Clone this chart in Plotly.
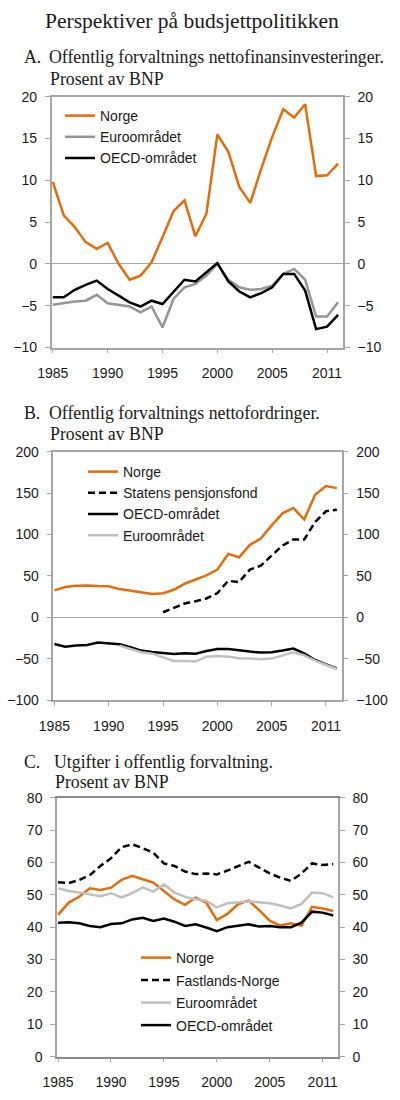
import plotly.graph_objects as go

years = list(range(1985, 2012))

# A. Offentlig forvaltnings nettofinansinvesteringer (prosent av BNP)
a_norge = [9.8, 5.8, 4.4, 2.6, 1.8, 2.5, 0.0, -1.9, -1.4, 0.2, 3.2, 6.3, 7.6, 3.3, 6.0,
           15.5, 13.4, 9.2, 7.3, 11.4, 15.2, 18.5, 17.5, 19.1, 10.5, 10.6, 12.0]
a_euro = [-4.9, -4.7, -4.5, -4.4, -3.7, -4.7, -4.9, -5.1, -5.8, -5.1, -7.6, -4.2, -2.8, -2.4, -1.4,
          0.0, -1.9, -2.8, -3.1, -3.0, -2.6, -1.2, -0.6, -1.9, -6.3, -6.3, -4.6]
a_oecd = [-4.0, -4.0, -3.1, -2.5, -2.0, -3.0, -3.8, -4.6, -5.1, -4.4, -4.8, -3.4, -1.9, -2.1, -1.0,
          0.1, -2.1, -3.3, -4.0, -3.5, -2.8, -1.2, -1.2, -3.2, -7.8, -7.5, -6.1]

# B. Offentlig forvaltnings nettofordringer (prosent av BNP)
b_norge = [32.4, 36.5, 38.0, 38.3, 37.6, 37.5, 34.0, 32.0, 29.6, 28.0, 29.1, 33.2, 40.5, 45.3, 50.6,
           57.5, 76.5, 72.5, 87.5, 95.0, 111.0, 125.5, 132.0, 118.0, 148.0, 158.5, 156.0]
b_spf = [None] * 10 + [6.0, 11.0, 16.6, 19.4, 22.7, 29.1, 44.0, 42.5, 57.5, 62.3, 74.5, 86.6,
                       93.9, 93.9, 115.0, 128.0, 130.0]
b_oecd = [-32.3, -35.5, -34.3, -33.5, -30.6, -31.5, -32.7, -36.3, -40.3, -41.9, -43.5, -44.4, -43.5,
          -44.0, -40.7, -38.3, -38.3, -40.3, -41.5, -42.7, -42.3, -40.3, -37.9, -43.5, -51.6, -56.9,
          -61.7]
b_euro = [None] * 6 + [-34.3, -37.9, -42.3, -44.0, -48.8, -52.8, -52.8, -53.6, -47.6, -46.8, -47.6,
                       -49.6, -50.0, -50.8, -50.0, -46.4, -42.3, -46.0, -52.4, -57.7, -62.5]

# C. Utgifter i offentlig forvaltning (prosent av BNP)
c_norge = [43.8, 47.6, 49.4, 52.0, 51.5, 52.2, 54.6, 55.9, 54.8, 53.8, 51.2, 48.6, 46.9, 49.1, 47.6,
           42.2, 44.1, 47.1, 48.2, 45.3, 42.0, 40.5, 41.2, 40.5, 46.3, 45.8, 45.0]
c_fastland = [53.9, 53.6, 54.6, 56.1, 58.9, 61.3, 64.7, 65.6, 64.4, 63.0, 59.7, 58.9, 57.2, 56.4,
              56.6, 56.3, 57.5, 58.9, 60.2, 58.4, 56.6, 55.3, 54.3, 56.6, 59.7, 59.2, 59.5]
c_euro = [52.0, 51.2, 50.7, 50.2, 49.6, 50.5, 49.2, 50.5, 52.3, 51.0, 53.2, 50.7, 49.4, 48.6, 48.2,
          46.1, 47.4, 47.7, 47.9, 47.7, 47.4, 46.7, 45.8, 47.2, 50.7, 50.5, 49.2]
c_oecd = [41.4, 41.5, 41.2, 40.4, 40.0, 41.0, 41.2, 42.4, 42.9, 41.9, 42.7, 41.7, 40.4, 40.9, 39.9,
          38.8, 40.0, 40.5, 40.9, 40.2, 40.4, 40.0, 40.0, 41.4, 44.8, 44.5, 43.6]

tick_years = [1985, 1990, 1995, 2000, 2005, 2010]
tick_text = ['1985', '1990', '1995', '2000', '2005', '2011']

ORANGE = '#E46C0A'
GREY_A = '#969696'
GREY_LIGHT = '#C0C0C0'
AXIS = '#A6A6A6'
TXT = '#1a1a1a'
SANS = 'Liberation Sans, Arial, sans-serif'
SERIF = 'Liberation Serif, Times New Roman, serif'
W, H = 400, 1100
SUB = 17.8  # panel heading size


def px_x(p):
    return p / W


def px_y(p):
    return 1 - p / H


fig = go.Figure()

# (x-domain px, y-domain px, y range, y dtick)
panels = [
    ((51.7, 343), (347.5, 96.7), [-10, 20], 5),
    ((53.3, 341.7), (700, 451.7), [-100, 200], 50),
    ((57, 338), (1056.7, 797.7), [0, 80], 10),
]

series = [
    [('Norge', a_norge, ORANGE, 'solid', 2.5, 'y'),
     ('Euroområdet', a_euro, GREY_A, 'solid', 2.5, 'y'),
     ('OECD-området', a_oecd, 'black', 'solid', 2.5, 'y')],
    [('Norge', b_norge, ORANGE, 'solid', 2.5, 'y3'),
     ('Statens pensjonsfond', b_spf, 'black', '7px,4px', 2.5, 'y3'),
     ('OECD-området', b_oecd, 'black', 'solid', 2.5, 'y3'),
     ('Euroområdet', b_euro, GREY_LIGHT, 'solid', 2.5, 'y3')],
    [('Norge', c_norge, ORANGE, 'solid', 2.5, 'y5'),
     ('Fastlands-Norge', c_fastland, 'black', '7px,4px', 2.5, 'y5'),
     ('Euroområdet', c_euro, GREY_LIGHT, 'solid', 2.5, 'y5'),
     ('OECD-området', c_oecd, 'black', 'solid', 2.5, 'y5')],
]

legend_names = ['legend', 'legend2', 'legend3']
for i, group in enumerate(series):
    xname = 'x' if i == 0 else 'x%d' % (i + 1)
    for name, vals, color, dash, width, yname in group:
        fig.add_trace(go.Scatter(
            x=years, y=vals, name=name, mode='lines',
            line=dict(color=color, dash=dash, width=width),
            xaxis=xname, yaxis=yname, legend=legend_names[i],
            legendgroup='%s_%d' % (name, i),
            connectgaps=False,
        ))
    # empty trace so the right-hand axis is drawn
    fig.add_trace(go.Scatter(x=[], y=[], xaxis=xname, yaxis='y%d' % (2 * i + 2),
                             showlegend=False, hoverinfo='skip'))

layout = {}
for i, (xd, yd, yr, dt) in enumerate(panels):
    xk = 'xaxis' if i == 0 else 'xaxis%d' % (i + 1)
    xa = 'x' if i == 0 else 'x%d' % (i + 1)
    yl = 'yaxis' if i == 0 else 'yaxis%d' % (2 * i + 1)
    yl_ref = 'y' if i == 0 else 'y%d' % (2 * i + 1)
    yr_k = 'yaxis%d' % (2 * i + 2)
    ydom = [px_y(yd[0]), px_y(yd[1])]
    layout[xk] = dict(
        domain=[px_x(xd[0]), px_x(xd[1])], anchor=yl_ref, range=[1984.9, 2011.45],
        tickvals=tick_years, ticktext=tick_text, ticks='outside', ticklen=4,
        tickcolor=AXIS, showline=True, linecolor='#8C8C8C' if i == 2 else AXIS,
        linewidth=1.5, mirror=True, showgrid=False, zeroline=False, automargin=False,
        tickfont=dict(family=SANS, size=14, color=TXT), ticklabelstandoff=8,
    )
    common_y = dict(
        domain=ydom, range=yr, dtick=dt, tick0=yr[0], ticks='outside', ticklen=5,
        tickcolor=AXIS, showline=True, linecolor=AXIS, linewidth=1.5, showgrid=False,
        automargin=False, tickfont=dict(family=SANS, size=14, color=TXT), ticklabelstandoff=5,
    )
    layout[yl] = dict(common_y, anchor=xa, side='left',
                      zeroline=(i < 2), zerolinecolor=AXIS, zerolinewidth=1.2)
    layout[yr_k] = dict(common_y, anchor=xa, side='right', overlaying=yl_ref,
                        zeroline=False)

fig.update_layout(**layout)

legend_style = dict(font=dict(family=SANS, size=14, color=TXT), bgcolor='rgba(0,0,0,0)',
                    xanchor='left', yanchor='top', borderwidth=0, tracegroupgap=0)
fig.update_layout(
    legend=dict(legend_style, x=px_x(60), y=px_y(100)),
    legend2=dict(legend_style, x=px_x(83), y=px_y(456)),
    legend3=dict(legend_style, x=px_x(136), y=px_y(942), tracegroupgap=1.3),
)

annotations = [
    dict(text='Perspektiver på budsjettpolitikken', x=px_x(191.5), y=px_y(21),
         xanchor='center', font=dict(family=SERIF, size=21.5)),
    dict(text='A.', x=px_x(22), y=px_y(57), xanchor='left', font=dict(family=SERIF, size=SUB)),
    dict(text='Offentlig forvaltnings nettofinansinvesteringer.', x=px_x(47), y=px_y(57),
         xanchor='left', font=dict(family=SERIF, size=SUB)),
    dict(text='Prosent av BNP', x=px_x(48), y=px_y(79), xanchor='left',
         font=dict(family=SERIF, size=SUB)),
    dict(text='B.', x=px_x(22), y=px_y(413), xanchor='left', font=dict(family=SERIF, size=SUB)),
    dict(text='Offentlig forvaltnings nettofordringer.', x=px_x(47), y=px_y(413),
         xanchor='left', font=dict(family=SERIF, size=SUB)),
    dict(text='Prosent av BNP', x=px_x(48), y=px_y(434), xanchor='left',
         font=dict(family=SERIF, size=SUB)),
    dict(text='C.', x=px_x(22), y=px_y(762), xanchor='left', font=dict(family=SERIF, size=SUB)),
    dict(text='Utgifter i offentlig forvaltning.', x=px_x(52), y=px_y(762),
         xanchor='left', font=dict(family=SERIF, size=SUB)),
    dict(text='Prosent av BNP', x=px_x(53), y=px_y(782), xanchor='left',
         font=dict(family=SERIF, size=SUB)),
]
for a in annotations:
    a.update(xref='paper', yref='paper', yanchor='middle', showarrow=False)
    a['font'].setdefault('color', TXT)

fig.update_layout(
    annotations=annotations,
    width=W, height=H,
    margin=dict(l=0, r=0, t=0, b=0),
    paper_bgcolor='white', plot_bgcolor='white',
    showlegend=True,
)

# no page margin, so the 400x1100 figure fills the window exactly
fig.write_html('out.html', config={'displayModeBar': False},
               post_script="document.body.style.margin='0';"
                           "document.body.style.overflow='hidden';")
